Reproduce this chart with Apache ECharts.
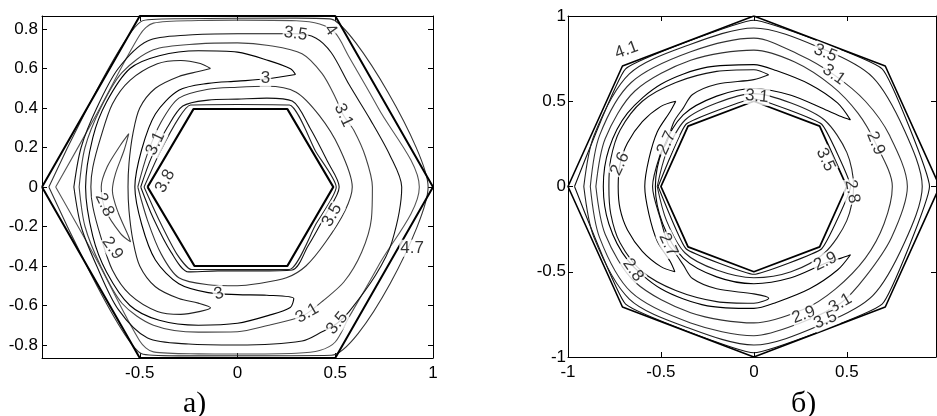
<!DOCTYPE html>
<html><head><meta charset="utf-8">
<script src="https://cdn.jsdelivr.net/npm/echarts@6/dist/echarts.min.js"></script>
<style>html,body{margin:0;padding:0;background:#fff}#c{width:937px;height:416px}</style>
</head><body><div id="c"></div>
<script>
// ---------- tick labels ----------
const leftXTicks = [-0.5, 0, 0.5, 1];
const leftYTicks = [-0.8, -0.6, -0.4, -0.2, 0, 0.2, 0.4, 0.6, 0.8];
const rightXTicks = [-1, -0.5, 0, 0.5];
const rightYTicks = [-1, -0.5, 0, 0.5, 1];
const panelCaptions = ['а)', 'б)'];

// ---------- left panel (hexagonal section) ----------
const hexOuter = [[-1,0],[-0.5,0.866],[0.5,0.866],[1,0],[0.5,-0.866],[-0.5,-0.866],[-1,0]];
const hexInner = [[-0.46,0],[-0.225,0.395],[0.255,0.395],[0.49,0],[0.255,-0.4],[-0.22,-0.4],[-0.46,0]];
const lvl47 = [[-0.965,0],[-0.49,0.84],[-0.3,0.852],[0.3,0.855],[0.48,0.85],[0.975,0],[0.48,-0.852],[-0.3,-0.855],[-0.49,-0.845],[-0.965,0]];
const lvl4 = [[-0.93,0],[-0.72,0.37],[-0.5,0.77],[-0.43,0.83],[-0.2,0.843],[0,0.845],[0.3,0.842],[0.42,0.825],[0.5,0.78],[0.57,0.66],[0.72,0.4],[0.93,0],[0.72,-0.4],[0.57,-0.66],[0.5,-0.785],[0.42,-0.828],[0.3,-0.842],[0,-0.846],[-0.2,-0.845],[-0.43,-0.835],[-0.5,-0.78],[-0.72,-0.37],[-0.93,0]];
const lvl35o = [[-0.837,0],[-0.8,0.2],[-0.72,0.4],[-0.61,0.6],[-0.46,0.74],[-0.25,0.77],[0,0.776],[0.297,0.776],[0.4,0.755],[0.48,0.68],[0.57,0.52],[0.68,0.34],[0.78,0.16],[0.84,0],[0.79,-0.278],[0.706,-0.447],[0.57,-0.632],[0.51,-0.69],[0.433,-0.733],[0.33,-0.78],[0,-0.8],[-0.25,-0.795],[-0.46,-0.765],[-0.61,-0.62],[-0.72,-0.4],[-0.8,-0.2],[-0.837,0]];
const lvl31o = [[-0.81,0],[-0.78,0.2],[-0.7,0.4],[-0.59,0.58],[-0.43,0.695],[-0.2,0.725],[0,0.73],[0.16,0.717],[0.33,0.675],[0.433,0.574],[0.5,0.455],[0.542,0.363],[0.595,0.287],[0.655,0.152],[0.69,0],[0.685,-0.16],[0.635,-0.33],[0.545,-0.48],[0.433,-0.58],[0.356,-0.64],[0.297,-0.666],[0.16,-0.7],[0,-0.733],[-0.2,-0.735],[-0.43,-0.7],[-0.59,-0.59],[-0.7,-0.4],[-0.78,-0.2],[-0.81,0]];
const lvl3 = [[0.297,0.57],[0.15,0.548],[0,0.536],[-0.15,0.525],[-0.3,0.49],[-0.42,0.37],[-0.49,0.19],[-0.525,0],[-0.49,-0.19],[-0.42,-0.37],[-0.3,-0.49],[-0.15,-0.535],[0,-0.545],[0.15,-0.548],[0.288,-0.565],[0.27,-0.61],[0.16,-0.65],[0,-0.69],[-0.2,-0.7],[-0.4,-0.675],[-0.55,-0.6],[-0.67,-0.43],[-0.74,-0.25],[-0.777,0],[-0.74,0.25],[-0.67,0.43],[-0.55,0.6],[-0.4,0.665],[-0.2,0.69],[0,0.683],[0.16,0.64],[0.271,0.599],[0.297,0.57]];
const lvl29 = [[-0.138,0.6],[-0.19,0.625],[-0.29,0.641],[-0.41,0.624],[-0.55,0.54],[-0.64,0.42],[-0.7,0.25],[-0.74,0.1],[-0.75,0],[-0.74,-0.1],[-0.7,-0.25],[-0.64,-0.42],[-0.55,-0.545],[-0.41,-0.63],[-0.29,-0.645],[-0.19,-0.63],[-0.138,-0.612],[-0.2,-0.588],[-0.3,-0.565],[-0.42,-0.505],[-0.5,-0.4],[-0.535,-0.27],[-0.555,-0.12],[-0.56,0],[-0.555,0.12],[-0.535,0.27],[-0.5,0.4],[-0.42,0.5],[-0.3,0.56],[-0.2,0.585],[-0.138,0.6]];
const lvl28 = [[-0.556,0.27],[-0.6,0.21],[-0.667,0.101],[-0.697,0],[-0.675,-0.118],[-0.598,-0.236],[-0.547,-0.278],[-0.556,-0.253],[-0.615,-0.118],[-0.64,-0.017],[-0.624,0.068],[-0.58,0.186],[-0.556,0.27]];
const lvl31i = [[-0.51,0],[-0.46,0.17],[-0.39,0.33],[-0.3,0.45],[-0.15,0.495],[0,0.505],[0.15,0.51],[0.3,0.48],[0.42,0.36],[0.52,0.2],[0.587,0],[0.55,-0.12],[0.45,-0.28],[0.35,-0.4],[0.25,-0.46],[0.1,-0.49],[0,-0.5],[-0.15,-0.495],[-0.3,-0.46],[-0.39,-0.34],[-0.46,-0.17],[-0.51,0]];
const lvl35i = [[-0.495,0],[-0.44,0.15],[-0.36,0.3],[-0.28,0.41],[-0.15,0.44],[0,0.445],[0.15,0.45],[0.28,0.435],[0.37,0.3],[0.46,0.13],[0.52,0],[0.45,-0.14],[0.36,-0.3],[0.28,-0.42],[0.1,-0.425],[-0.1,-0.425],[-0.25,-0.43],[-0.34,-0.33],[-0.43,-0.16],[-0.495,0]];
const lvl38 = [[-0.478,0],[-0.4,0.17],[-0.3,0.35],[-0.24,0.415],[0,0.418],[0.265,0.415],[0.4,0.18],[0.505,0],[0.4,-0.19],[0.265,-0.418],[0,-0.418],[-0.235,-0.418],[-0.31,-0.34],[-0.4,-0.17],[-0.478,0]];
const leftLabelText = ['3.5','4','3','3.1','3.1','3.8','2.8','2.9','3.5','4.7','3','3.1','3.5'];
const leftLabelXY = [[0.297,0.776],[0.476,0.795],[0.143,0.55],[0.542,0.363],[-0.42,0.22],[-0.37,0.03],[-0.68,-0.09],[-0.64,-0.31],[0.484,-0.143],[0.893,-0.31],[-0.096,-0.54],[0.356,-0.64],[0.51,-0.69]];
const leftLabelAngle = [-8,-55,0,-65,65,62,-65,-55,60,0,15,30,50];

// ---------- right panel (octagonal section) ----------
const octOuter = [[1,0],[0.707,0.707],[0,1],[-0.707,0.707],[-1,0],[-0.707,-0.707],[0,-1],[0.707,-0.707],[1,0]];
const octInner = [[0.5,0],[0.354,0.354],[0,0.5],[-0.354,0.354],[-0.5,0],[-0.354,-0.354],[0,-0.5],[0.354,-0.354],[0.5,0]];
const r41 = [[-0.965,0],[-0.69,0.69],[0,0.975],[0.69,0.69],[0.945,0],[0.69,-0.69],[0,-0.975],[-0.69,-0.69],[-0.965,0]];
const r35o = [[-0.915,0],[-0.86,0.3],[-0.67,0.66],[-0.35,0.83],[0,0.93],[0.385,0.8],[0.64,0.64],[0.81,0.33],[0.906,0],[0.81,-0.33],[0.64,-0.64],[0.385,-0.8],[0,-0.93],[-0.35,-0.83],[-0.67,-0.66],[-0.86,-0.3],[-0.915,0]];
const r31o = [[-0.88,0],[-0.83,0.3],[-0.66,0.61],[-0.34,0.79],[0,0.87],[0.25,0.77],[0.43,0.656],[0.6,0.5],[0.73,0.3],[0.826,0],[0.74,-0.3],[0.6,-0.53],[0.466,-0.685],[0.25,-0.8],[0,-0.875],[-0.34,-0.8],[-0.66,-0.62],[-0.83,-0.3],[-0.88,0]];
const r29o = [[-0.85,0],[-0.8,0.28],[-0.64,0.56],[-0.34,0.74],[0,0.8],[0.22,0.73],[0.42,0.59],[0.56,0.43],[0.655,0.254],[0.745,0],[0.7,-0.22],[0.6,-0.42],[0.44,-0.6],[0.268,-0.72],[0,-0.8],[-0.34,-0.74],[-0.64,-0.56],[-0.8,-0.28],[-0.85,0]];
const r29c = [[0.52,0.39],[0.45,0.49],[0.3,0.6],[0.12,0.68],[0,0.715],[-0.25,0.7],[-0.5,0.6],[-0.68,0.43],[-0.78,0.22],[-0.81,0],[-0.78,-0.22],[-0.68,-0.43],[-0.5,-0.6],[-0.25,-0.7],[0,-0.715],[0.12,-0.68],[0.3,-0.6],[0.45,-0.49],[0.52,-0.4],[0.47,-0.42],[0.385,-0.45],[0.2,-0.535],[0,-0.57],[-0.2,-0.53],[-0.38,-0.42],[-0.49,-0.22],[-0.53,0],[-0.49,0.22],[-0.38,0.42],[-0.2,0.53],[0,0.575],[0.2,0.535],[0.385,0.45],[0.47,0.41],[0.52,0.39]];
const r27 = [[0.08,0.655],[0,0.685],[-0.2,0.675],[-0.42,0.61],[-0.6,0.5],[-0.72,0.33],[-0.77,0.16],[-0.78,0],[-0.77,-0.16],[-0.72,-0.33],[-0.6,-0.5],[-0.42,-0.61],[-0.2,-0.675],[0,-0.685],[0.08,-0.655],[0,-0.63],[-0.2,-0.6],[-0.33,-0.54],[-0.38,-0.46],[-0.43,-0.38],[-0.46,-0.342],[-0.5,-0.2],[-0.545,0],[-0.5,0.2],[-0.47,0.255],[-0.43,0.38],[-0.38,0.46],[-0.33,0.54],[-0.2,0.6],[0,0.627],[0.08,0.655]];
const r26 = [[-0.42,0.5],[-0.5,0.47],[-0.6,0.38],[-0.68,0.255],[-0.72,0.13],[-0.73,0],[-0.72,-0.13],[-0.68,-0.255],[-0.6,-0.38],[-0.5,-0.47],[-0.425,-0.5],[-0.45,-0.44],[-0.52,-0.32],[-0.565,-0.16],[-0.587,0],[-0.565,0.16],[-0.52,0.32],[-0.45,0.44],[-0.42,0.5]];
const r31i = [[-0.52,0],[-0.47,0.2],[-0.37,0.39],[-0.2,0.49],[0,0.545],[0.2,0.49],[0.38,0.39],[0.5,0.2],[0.537,0],[0.5,-0.2],[0.38,-0.39],[0.2,-0.5],[0,-0.535],[-0.2,-0.49],[-0.37,-0.39],[-0.47,-0.2],[-0.52,0]];
const r35i = [[-0.515,0],[-0.365,0.365],[0,0.515],[0.365,0.365],[0.52,0],[0.365,-0.365],[0,-0.515],[-0.365,-0.365],[-0.515,0]];
const rightLabelText = ['4.1','3.5','3.1','3.1','3.5','2.9','2.8','2.7','2.6','2.7','2.8','2.9','2.9','3.1','3.5'];
const rightLabelXY = [[-0.685,0.8],[0.385,0.783],[0.43,0.656],[0.016,0.528],[0.385,0.157],[0.655,0.254],[0.529,-0.03],[-0.47,0.255],[-0.72,0.133],[-0.46,-0.342],[-0.65,-0.49],[0.385,-0.44],[0.268,-0.753],[0.466,-0.685],[0.385,-0.783]];
const rightLabelAngle = [20,-22,-35,-5,-65,-68,-80,65,65,-65,-55,25,20,30,22];

// ---------- build chart ----------
const tickFont = {fontFamily:'Liberation Sans, Arial', fontSize:17, color:'#000'};
function line(data, xi, color, width, smooth, z){
  return {type:'line', data:data, xAxisIndex:xi, yAxisIndex:xi, showSymbol:false, symbol:'none',
    smooth:smooth, silent:true, z:z, lineStyle:{color:color, width:width}, animation:false};
}
function labels(texts, xy, angles, xi){
  return {type:'scatter', xAxisIndex:xi, yAxisIndex:xi, symbolSize:1, z:10, silent:true,
    itemStyle:{color:'rgba(0,0,0,0)'},
    data: texts.map((t,i)=>({value:xy[i], label:{show:true, position:'inside', formatter:t, rotate:angles[i],
      fontFamily:'Liberation Sans, Arial', fontSize:17, color:'#000', backgroundColor:'#fff', padding:[0,1]}}))};
}
function mainX(grid, min, max, vals, ticks){
  return {type:'value', gridIndex:grid, min:min, max:max, position:'bottom',
    axisLine:{show:true, onZero:false, lineStyle:{color:'#000', width:1}},
    axisTick:{show:true, inside:true, length:5, customValues:ticks, lineStyle:{color:'#000'}},
    axisLabel:{show:true, customValues:vals, margin:7, ...tickFont}, splitLine:{show:false}};
}
function boxX(grid, min, max, ticks){
  return {type:'value', gridIndex:grid, min:min, max:max, position:'top',
    axisLine:{show:true, onZero:false, lineStyle:{color:'#000', width:1}},
    axisTick:{show:true, inside:true, length:5, customValues:ticks, lineStyle:{color:'#000'}},
    axisLabel:{show:false}, splitLine:{show:false}};
}
function mainY(grid, min, max, vals, margin){
  return {type:'value', gridIndex:grid, min:min, max:max, position:'left',
    axisLine:{show:true, onZero:false, lineStyle:{color:'#000', width:1}},
    axisTick:{show:true, inside:true, length:5, customValues:vals, lineStyle:{color:'#000'}},
    axisLabel:{show:true, customValues:vals, margin:margin, ...tickFont}, splitLine:{show:false}};
}
function boxY(grid, min, max, vals){
  return {type:'value', gridIndex:grid, min:min, max:max, position:'right',
    axisLine:{show:true, onZero:false, lineStyle:{color:'#000', width:1}},
    axisTick:{show:true, inside:true, length:5, customValues:vals, lineStyle:{color:'#000'}},
    axisLabel:{show:false}, splitLine:{show:false}};
}

const chart = echarts.init(document.getElementById('c'), null, {renderer:'canvas'});
chart.setOption({
  animation:false,
  backgroundColor:'#fff',
  title:[
    {text:panelCaptions[0], left:178, top:384, textStyle:{fontFamily:'Liberation Serif, Times New Roman', fontSize:30, fontWeight:'normal', color:'#000'}},
    {text:panelCaptions[1], left:786, top:384, textStyle:{fontFamily:'Liberation Serif, Times New Roman', fontSize:30, fontWeight:'normal', color:'#000'}}
  ],
  grid:[
    {left:42, top:16, width:391, height:342},
    {left:568, top:16, width:368, height:341}
  ],
  xAxis:[
    mainX(0, -1, 1, leftXTicks, [-0.5,0,0.5]),
    boxX(0, -1, 1, [-0.5,0,0.5]),
    mainX(1, -1, 0.98, rightXTicks, [-0.5,0,0.5]),
    boxX(1, -1, 0.98, [-0.5,0,0.5])
  ],
  yAxis:[
    mainY(0, -0.866, 0.866, leftYTicks, 4),
    boxY(0, -0.866, 0.866, leftYTicks),
    mainY(1, -1, 1, rightYTicks, 2),
    boxY(1, -1, 1, rightYTicks)
  ],
  series:[
    line(lvl47, 0, '#333', 1.1, 0.2, 2),
    line(lvl4, 0, '#555', 1.1, 0.3, 2),
    line(lvl35o, 0, '#111', 1.1, 0.3, 2),
    line(lvl31o, 0, '#444', 1.1, 0.3, 2),
    line(lvl3, 0, '#000', 1.1, 0.3, 2),
    line(lvl29, 0, '#222', 1.1, 0.3, 2),
    line(lvl28, 0, '#444', 1.1, 0.3, 2),
    line(lvl31i, 0, '#333', 1.1, 0.3, 2),
    line(lvl35i, 0, '#111', 1.1, 0.3, 2),
    line(lvl38, 0, '#222', 1.1, 0.2, 2),
    line(hexOuter, 0, '#000', 2, false, 3),
    line(hexInner, 0, '#000', 2.2, false, 3),
    labels(leftLabelText, leftLabelXY, leftLabelAngle, 0),

    line(r41, 2, '#111', 1.1, 0.1, 2),
    line(r35o, 2, '#222', 1.1, 0.3, 2),
    line(r31o, 2, '#333', 1.1, 0.3, 2),
    line(r29o, 2, '#333', 1.1, 0.3, 2),
    line(r29c, 2, '#000', 1.1, 0.3, 2),
    line(r27, 2, '#111', 1.1, 0.3, 2),
    line(r26, 2, '#000', 1.1, 0.3, 2),
    line(r31i, 2, '#222', 1.1, 0.3, 2),
    line(r35i, 2, '#111', 1.1, 0.1, 2),
    line(octOuter, 2, '#000', 1.6, false, 3),
    line(octInner, 2, '#000', 1.8, false, 3),
    labels(rightLabelText, rightLabelXY, rightLabelAngle, 2)
  ]
});
</script></body></html>
